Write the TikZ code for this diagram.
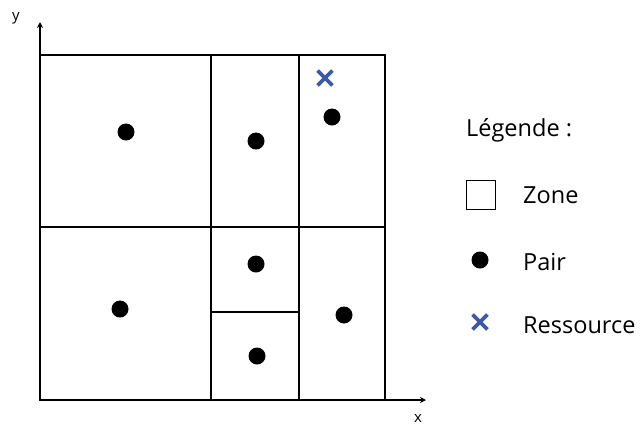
\documentclass[tikz,border=0pt]{standalone}
\usepackage{fontspec}
\setmainfont{Open Sans}
\usetikzlibrary{arrows.meta,positioning,shapes.misc}
\definecolor{ResBlue}{HTML}{3C5AA8}

\begin{document}
\begin{tikzpicture}[x=1bp,y=-1bp,
        zone/.style={draw=black,line width=1.4bp},
        pair/.style={circle,fill=black,inner sep=0pt,minimum size=17bp},
        res/.style={cross out,draw=ResBlue,line width=3.8bp,inner sep=0pt,minimum size=11bp},
        axis/.style={-{Stealth[length=6bp,width=6bp]},line width=2.6bp},
        lbl/.style={font=\fontsize{23.6}{27}\selectfont,anchor=west,inner sep=0pt},
        axlbl/.style={font=\fontsize{15}{18}\selectfont,inner sep=0pt}]
      \useasboundingbox (0,0) rectangle (641,426);
      % zones
      \draw[zone] (40,55) rectangle (385,400);
      \draw[zone] (40,227) -- (385,227);
      \draw[zone] (211,55) -- (211,400);
      \draw[zone] (299,55) -- (299,400);
      \draw[zone] (211,312) -- (299,312);
      % axes
      \coordinate (o) at (40,400);
      \coordinate (ytip) at (40,22);
      \coordinate (xtip) at (426,400);
      \draw[axis] (o)--(ytip);
      \draw[axis] (o)--(xtip);
      \node[axlbl] (ylab) at (16,18) {y};
      \node[axlbl] (xlab) at (418,418) {x};
      % pairs
      \node[pair] (p1) at (126,132) {};
      \node[pair] (p2) at (256,141) {};
      \node[pair] (p3) at (332,117) {};
      \node[pair] (p4) at (256,264) {};
      \node[pair] (p5) at (120,309) {};
      \node[pair] (p6) at (344,315) {};
      \node[pair] (p7) at (257,356) {};
      \node[res] (r1) at (325,78) {};
      % legend
      \node[lbl] (leg) at (466,130) {Légende :};
      \node[zone,minimum size=29bp,inner sep=0pt] (kz) at (481,195) {};
      \node[lbl] (tz) at (523,195) {Zone};
      \node[pair] (kp) at (480,260) {};
      \node[lbl] (tp) at (523,262) {Pair};
      \node[res] (kr) at (480,322) {};
      \node[lbl] (tr) at (523,325) {Ressource};
\end{tikzpicture}
\end{document}
